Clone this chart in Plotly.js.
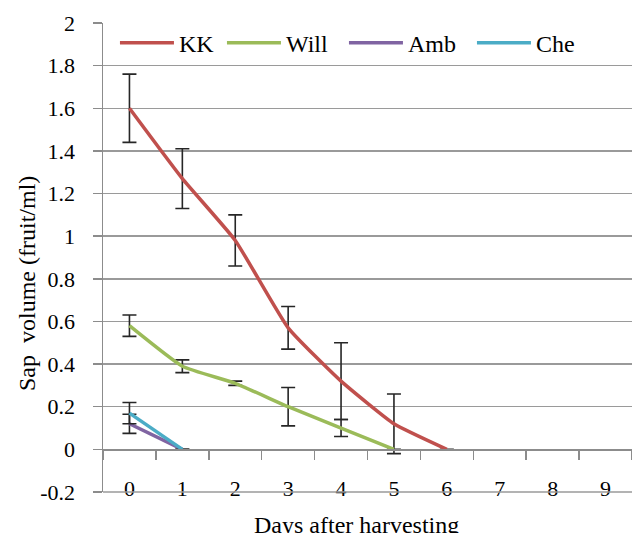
<!DOCTYPE html>
<html>
<head>
<meta charset="utf-8">
<script src="https://cdn.plot.ly/plotly-3.0.1.min.js"></script>
<style>html,body{margin:0;padding:0;background:#fff;}#chart{width:632px;height:533px;}</style>
</head>
<body>
<div id="chart"></div>
<script>
// Category labels (days after harvesting)
const days = ["0","1","2","3","4","5","6","7","8","9"];

// Series values
const kkDays = ["0","1","2","3","4","5","6"];
const kkValues = [1.60, 1.27, 0.98, 0.57, 0.32, 0.12, 0];
const kkErrors = [0.16, 0.14, 0.12, 0.10, 0.18, 0.14, 0];

const willDays = ["0","1","2","3","4","5"];
const willValues = [0.58, 0.39, 0.31, 0.20, 0.10, 0];
const willErrors = [0.05, 0.03, 0.01, 0.09, 0.04, 0];

const ambDays = ["0","1"];
const ambValues = [0.12, 0];
const ambErrors = [0.045, 0];

const cheDays = ["0","1"];
const cheValues = [0.17, 0];
const cheErrors = [0.05, 0];

const yTickVals = [-0.2, 0, 0.2, 0.4, 0.6, 0.8, 1, 1.2, 1.4, 1.6, 1.8, 2];
const yTickText = ["-0.2","0","0.2","0.4","0.6","0.8","1","1.2","1.4","1.6","1.8","2"];

const serif = "Liberation Serif, Times New Roman, serif";

function series(name, x, y, err, color, shape, legW) {
  return {
    type: "scatter", mode: "lines", name: name, x: x, y: y,
    line: {color: color, width: 3.5, shape: shape, smoothing: 0.45},
    error_y: {type: "data", array: err, visible: true, color: "#262626", thickness: 1.6, width: 7},
    cliponaxis: false,
    legendwidth: legW
  };
}

const data = [
  series("KK", kkDays, kkValues, kkErrors, "#C0504D", "spline", 38),
  series("Will", willDays, willValues, willErrors, "#9BBB59", "spline", 53),
  series("Amb", ambDays, ambValues, ambErrors, "#8064A2", "linear", 59),
  series("Che", cheDays, cheValues, cheErrors, "#4BACC6", "linear", 45)
];

const yZeroFrac = 0.2 / 2.2;

const layout = {
  width: 632, height: 533,
  margin: {l: 103, r: 0, t: 23, b: 41},
  paper_bgcolor: "#ffffff", plot_bgcolor: "#ffffff",
  font: {family: serif, size: 22, color: "#000"},
  showlegend: true,
  legend: {orientation: "h", x: 0.0226, y: 1.005, xanchor: "left", yanchor: "top",
           bgcolor: "rgba(0,0,0,0)", font: {family: serif, size: 24, color: "#000"},
           traceorder: "normal", itemwidth: 54},
  xaxis: {
    type: "category", categoryorder: "array", categoryarray: days,
    range: [-0.5, 9.5], tickson: "boundaries",
    anchor: "free", position: yZeroFrac,
    showline: true, linecolor: "#8c8c8c", linewidth: 1.5,
    ticks: "outside", ticklen: 9, tickcolor: "#8c8c8c", tickwidth: 1.5,
    ticklabelstandoff: 19,
    showgrid: false, zeroline: false,
    tickfont: {family: serif, size: 22, color: "#000"},
    fixedrange: true
  },
  yaxis: {
    range: [-0.2, 2], tickvals: yTickVals, ticktext: yTickText,
    showline: true, linecolor: "#8c8c8c", linewidth: 1.5,
    ticks: "outside", ticklen: 9, tickcolor: "#8c8c8c", tickwidth: 1.5,
    ticklabelstandoff: 13,
    showgrid: true, gridcolor: "#9a9a9a", gridwidth: 1.5,
    zeroline: false,
    tickfont: {family: serif, size: 22, color: "#000"},
    fixedrange: true
  },
  annotations: [
    {text: "Sap  volume (fruit/ml)", xref: "paper", yref: "paper", x: -0.1437, y: 0.4456,
     showarrow: false, textangle: -90, font: {family: serif, size: 24, color: "#000"},
     xanchor: "center", yanchor: "middle"},
    {text: "Days after harvesting", xref: "paper", yref: "paper", x: 0.48, y: -0.039,
     showarrow: false, font: {family: serif, size: 24, color: "#000"},
     xanchor: "center", yanchor: "top"}
  ],
  shapes: [
    {type: "line", xref: "paper", yref: "paper", x0: 0, x1: 1, y0: 0, y1: 0,
     line: {color: "#9a9a9a", width: 1.5}}
  ]
};

Plotly.newPlot("chart", data, layout, {displayModeBar: false, staticPlot: true});
</script>
</body>
</html>
